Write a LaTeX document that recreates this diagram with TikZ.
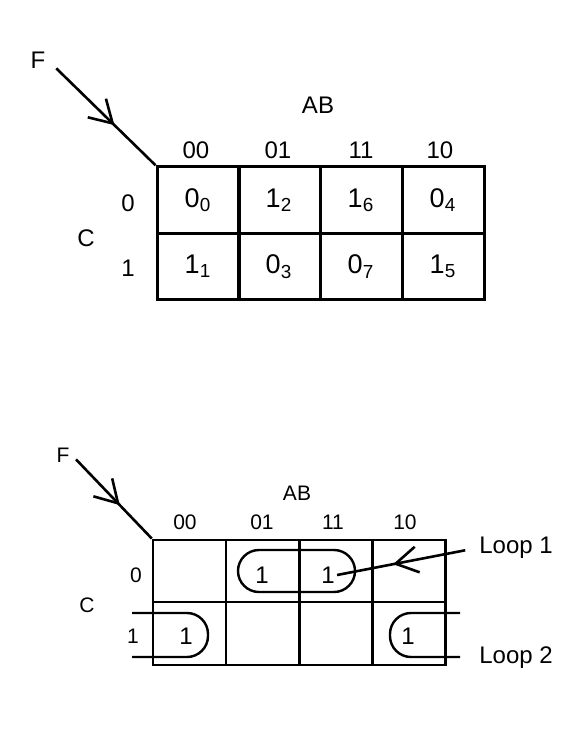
\documentclass[tikz,border=0pt]{standalone}
\usepackage{fontspec}
\setmainfont{Liberation Sans}
\usetikzlibrary{arrows.meta,decorations.markings}

\begin{document}
\begin{tikzpicture}[x=0.5pt, y=-0.5pt,
    cellA/.style={draw, line width=1.5pt, minimum width=41pt,
        minimum height=33.25pt, inner sep=0pt,
        font=\fontsize{13.5}{15}\selectfont},
    cellB/.style={draw, line width=1.2pt, minimum width=36.5pt,
        minimum height=31.25pt, inner sep=0pt},
    lbl/.style={font=\fontsize{12}{14}\selectfont, inner sep=1pt},
    lblB/.style={font=\fontsize{10.5}{12}\selectfont, inner sep=1pt},
    one/.style={font=\fontsize{12}{14}\selectfont, inner sep=1pt},
    ptr/.style={line width=1.3pt, decoration={markings,
        mark=at position #1 with {\arrow{Straight Barb[length=11pt,width=13pt,line width=1.3pt]}}},
        postaction=decorate},
    ring/.style={line width=1.2pt, rounded corners=10.5pt},
]
\useasboundingbox (0,0) rectangle (567,730);

% === Upper map: columns and rows ===
\def\colA{198}  % 00
\def\colB{279}  % 01
\def\colC{361}  % 11
\def\colD{443}  % 10
\def\rowA{200}  % C = 0
\def\rowB{266.5}% C = 1

% Cells with their values
\node[cellA] (u0) at (\colA, \rowA) {0\textsubscript{0}};
\node[cellA] (u2) at (\colB, \rowA) {1\textsubscript{2}};
\node[cellA] (u6) at (\colC, \rowA) {1\textsubscript{6}};
\node[cellA] (u4) at (\colD, \rowA) {0\textsubscript{4}};
\node[cellA] (u1) at (\colA, \rowB) {1\textsubscript{1}};
\node[cellA] (u3) at (\colB, \rowB) {0\textsubscript{3}};
\node[cellA] (u7) at (\colC, \rowB) {0\textsubscript{7}};
\node[cellA] (u5) at (\colD, \rowB) {1\textsubscript{5}};

% Headings
\node[lbl] (uAB) at (318, 105) {AB};
\node[lbl] (uh00) at (196, 150) {00};
\node[lbl] (uh01) at (278, 150) {01};
\node[lbl] (uh11) at (361, 150) {11};
\node[lbl] (uh10) at (440, 150) {10};
\node[lbl] (ur0) at (128, 203) {0};
\node[lbl] (ur1) at (128, 268) {1};
\node[lbl] (uC) at (86, 238) {C};
\node[lbl] (uF) at (38, 60) {F};

% Function arrow
\draw[ptr=0.62, shorten <=6pt] (uF.east) -- (u0.north west);

% === Lower map: columns and rows ===
\def\colA{189.5}
\def\colB{262.5}
\def\colC{336}
\def\colD{409}
\def\rowA{571}
\def\rowB{633.5}

\node[cellB] (l0) at (\colA, \rowA) {};
\node[cellB] (l2) at (\colB, \rowA) {};
\node[cellB] (l6) at (\colC, \rowA) {};
\node[cellB] (l4) at (\colD, \rowA) {};
\node[cellB] (l1) at (\colA, \rowB) {};
\node[cellB] (l3) at (\colB, \rowB) {};
\node[cellB] (l7) at (\colC, \rowB) {};
\node[cellB] (l5) at (\colD, \rowB) {};

% Ones inside the loops
\node[one] (v2) at (262, 575) {1};
\node[one] (v6) at (328, 575) {1};
\node[one] (v1) at (186, 636) {1};
\node[one] (v5) at (408, 636) {1};

% Headings
\node[lblB] (lAB) at (297, 493) {AB};
\node[lblB] (lh00) at (185, 522) {00};
\node[lblB] (lh01) at (262, 522) {01};
\node[lblB] (lh11) at (333, 522) {11};
\node[lblB] (lh10) at (405, 522) {10};
\node[lblB] (lr0) at (136, 575) {0};
\node[lblB] (lr1) at (133, 636) {1};
\node[lblB] (lC) at (87, 605) {C};
\node[lblB] (lF) at (63, 455) {F};

\draw[ptr=0.6, shorten <=3pt] (lF.east) -- (l0.north west);

% Loop 1
\draw[ring] (238, 550) rectangle (355, 592);
\node[lbl, anchor=west] (loopA) at (477, 548) {Loop 1};
\draw[ptr=0.6, shorten <=6pt] (loopA.west) -- (v6.east);

% Loop 2 (wraps round the map edges)
\draw[ring] (132, 613) -- (208, 613) -- (208, 657) -- (132, 657);
\draw[ring] (460, 613) -- (390, 613) -- (390, 657) -- (460, 657);
\node[lbl, anchor=west] (loopB) at (477, 658) {Loop 2};

\end{tikzpicture}
\end{document}
